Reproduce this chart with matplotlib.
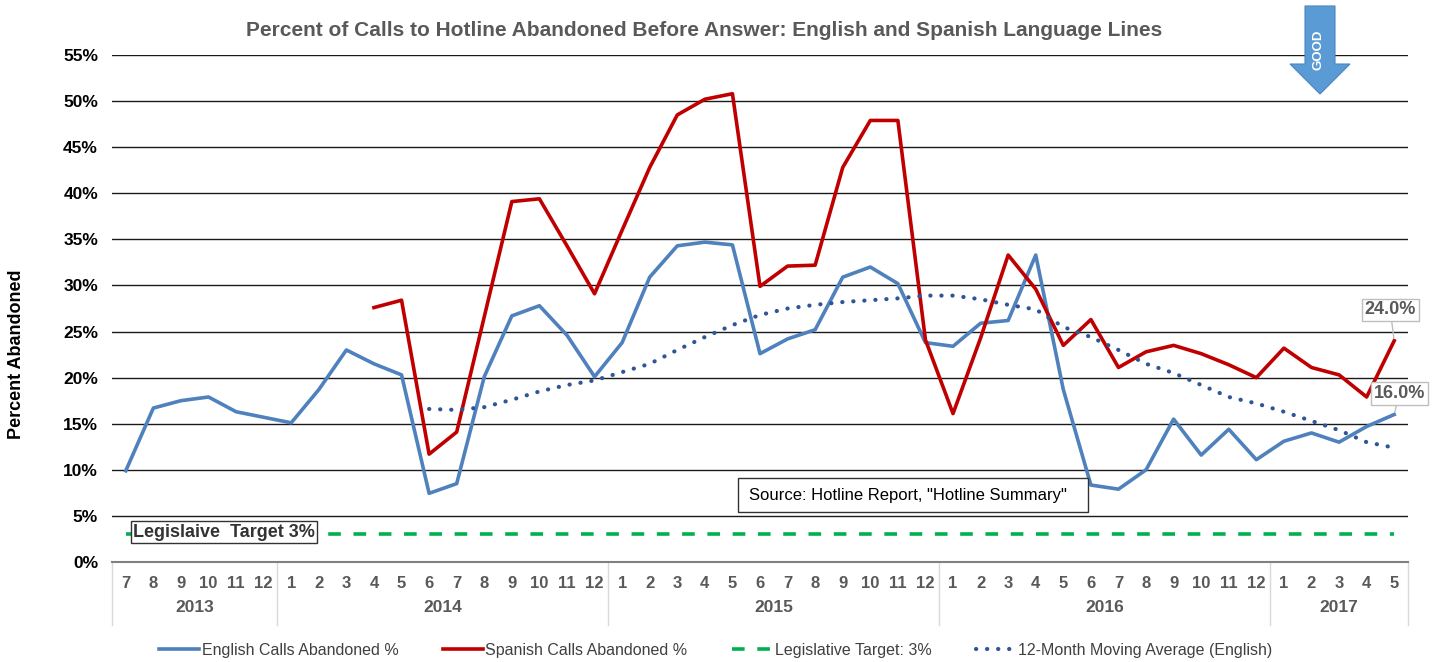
import matplotlib
matplotlib.use("Agg")
import matplotlib.pyplot as plt
from matplotlib.patches import Polygon, Rectangle
import numpy as np

plt.rcParams['font.family'] = ['Liberation Sans', 'DejaVu Sans']

# months along the axis, grouped by year
years = ['2013', '2014', '2015', '2016', '2017']
months_per_year = [[7, 8, 9, 10, 11, 12],
                   list(range(1, 13)), list(range(1, 13)), list(range(1, 13)),
                   [1, 2, 3, 4, 5]]
months = [m for ms in months_per_year for m in ms]

english = [9.9, 16.7, 17.5, 17.9, 16.3, 15.7, 15.1, 18.7, 23.0, 21.5, 20.3, 7.45,
           8.5, 20.1, 26.7, 27.8, 24.6, 20.1, 23.8, 30.9, 34.3, 34.7, 34.4, 22.6,
           24.2, 25.2, 30.9, 32.0, 30.2, 23.8, 23.4, 25.9, 26.2, 33.3, 18.7, 8.35,
           7.9, 10.0, 15.5, 11.6, 14.4, 11.1, 13.1, 14.0, 13.0, 14.7, 16.0]
spanish = [None] * 9 + [27.6, 28.4, 11.7, 14.1, 26.6, 39.1, 39.4, 34.3, 29.1,
           36.0, 42.8, 48.5, 50.2, 50.8, 29.9, 32.1, 32.2, 42.8, 47.9, 47.9, 24.1,
           16.1, 24.3, 33.3, 29.6, 23.5, 26.3, 21.1, 22.8, 23.5, 22.6, 21.4, 20.0,
           23.2, 21.1, 20.3, 17.9, 24.0]
moving_avg = [None] * 11 + [16.6, 16.5, 16.8, 17.6, 18.5, 19.2, 19.7, 20.6, 21.5,
              23.0, 24.4, 25.7, 26.8, 27.5, 27.9, 28.2, 28.4, 28.6, 28.9, 28.9,
              28.5, 27.9, 27.4, 25.5, 24.4, 23.0, 21.5, 20.5, 19.2, 17.9, 17.2,
              16.3, 15.3, 14.3, 13.0, 12.4]
target = 3.0

W, H = 1436, 662
fig = plt.figure(figsize=(W / 100, H / 100), dpi=100)
ax = fig.add_axes([112 / W, 1 - 562 / H, (1408 - 112) / W, (562 - 55) / H])

x = np.arange(len(months))
to_arr = lambda v: np.array([np.nan if a is None else a for a in v]) / 100

c_eng = '#4F81BD'
c_spa = '#C00000'
c_ma = '#2F5597'
c_tgt = '#00B050'
gray = '#595959'

ax.plot(x, to_arr(english), color=c_eng, lw=2.6, label='English Calls Abandoned %', zorder=4)
ax.plot(x, to_arr(spanish), color=c_spa, lw=2.6, label='Spanish Calls Abandoned %', zorder=5)
ax.plot(x, np.full(len(x), target / 100), color=c_tgt, lw=2.6, ls=(0, (3.5, 3.5)),
        label='Legislative Target: 3%', zorder=3)
ax.plot(x, to_arr(moving_avg), color=c_ma, lw=3, ls=(0, (0.05, 2.6)), dash_capstyle='round',
        label='12-Month Moving Average (English)', zorder=6)

ax.set_xlim(-0.5, len(x) - 0.5)
ax.set_ylim(0, 0.55)
ax.set_yticks(np.arange(0, 0.551, 0.05))
ax.set_yticklabels([f'{int(round(v * 100))}%' for v in np.arange(0, 0.551, 0.05)],
                   fontsize=12.5, fontweight='bold')
ax.tick_params(axis='y', length=0, pad=10)
ax.set_xticks([])
ax.grid(axis='y', color='#1a1a1a', lw=1)
ax.set_axisbelow(True)
for s in ['top', 'right', 'left']:
    ax.spines[s].set_visible(False)
ax.spines['bottom'].set_color('#808080')
ax.spines['bottom'].set_linewidth(1.5)

fig.text(17 / W, 1 - 354 / H, 'Percent Abandoned', rotation=90, ha='center', va='center',
         fontsize=13, fontweight='bold')

# multi-level category axis
for xi, m in zip(x, months):
    ax.annotate(str(m), (xi, 0), xycoords=('data', 'axes fraction'),
                xytext=(0, -21), textcoords='offset pixels', ha='center', va='center',
                fontsize=12, fontweight='bold', color=gray)
start = 0
bounds = [-0.5]
for yr, ms in zip(years, months_per_year):
    end = start + len(ms)
    ax.annotate(yr, ((start + end - 1) / 2, 0), xycoords=('data', 'axes fraction'),
                xytext=(0, -45), textcoords='offset pixels', ha='center', va='center',
                fontsize=12.5, fontweight='bold', color=gray)
    bounds.append(end - 0.5)
    start = end
sep_h = 63 / 507
for b in bounds:
    ax.plot([b, b], [0, -sep_h], transform=ax.get_xaxis_transform(), color='#d9d9d9',
            lw=1, clip_on=False)

# text boxes
ax.text(0.25, 0.0325, 'Legislaive  Target 3%', fontsize=13, fontweight='bold', color='#333333',
        va='center', ha='left', zorder=7,
        bbox=dict(boxstyle='square,pad=0.12', fc='white', ec='#333333', lw=1))
ax.add_patch(Rectangle((22.2, 0.054), 12.7, 0.037, fc='white', ec='#333333', lw=1, zorder=7))
ax.text(22.6, 0.0725, 'Source: Hotline Report, "Hotline Summary"', fontsize=12,
        va='center', ha='left', zorder=8)

# data labels for last points
ax.annotate(f'{spanish[-1]:.1f}%', (x[-1], spanish[-1] / 100), xytext=(-4, 31),
            textcoords='offset pixels', ha='center', va='center', fontsize=13,
            fontweight='bold', color=gray, zorder=8,
            bbox=dict(boxstyle='square,pad=0.15', fc='white', ec='#bfbfbf', lw=1),
            arrowprops=dict(arrowstyle='-', color='#bfbfbf', lw=1, shrinkA=0, shrinkB=2))
ax.annotate(f'{english[-1]:.1f}%', (x[-1], english[-1] / 100), xytext=(5, 21),
            textcoords='offset pixels', ha='center', va='center', fontsize=13,
            fontweight='bold', color=gray, zorder=8,
            bbox=dict(boxstyle='square,pad=0.15', fc='white', ec='#bfbfbf', lw=1),
            arrowprops=dict(arrowstyle='-', color='#bfbfbf', lw=1, shrinkA=0, shrinkB=2))

fig.text(704 / W, 1 - 31 / H,
         'Percent of Calls to Hotline Abandoned Before Answer: English and Spanish Language Lines',
         ha='center', va='center', fontsize=15, fontweight='bold', color=gray)

# GOOD arrow
pts = [(1305, 6), (1335, 6), (1335, 64), (1350, 64), (1320, 94), (1290, 64), (1305, 64)]
arrow = Polygon([(px / W, 1 - py / H) for px, py in pts], closed=True,
                transform=fig.transFigure, fc='#5B9BD5', ec='#4a86c0', lw=0.8, zorder=10)
fig.add_artist(arrow)
fig.text(1319 / W, 1 - 50 / H, 'GOOD', rotation=90, ha='center', va='center',
         fontsize=9.5, fontweight='bold', color='white', zorder=11)

leg = fig.legend(loc='center', bbox_to_anchor=(716 / W, 1 - 650 / H), ncol=4,
                 frameon=False, fontsize=11.5, handlelength=2.5, columnspacing=2.8,
                 handletextpad=0.15)
for t in leg.get_texts():
    t.set_color('#404040')

fig.savefig('out.png', dpi=100)
